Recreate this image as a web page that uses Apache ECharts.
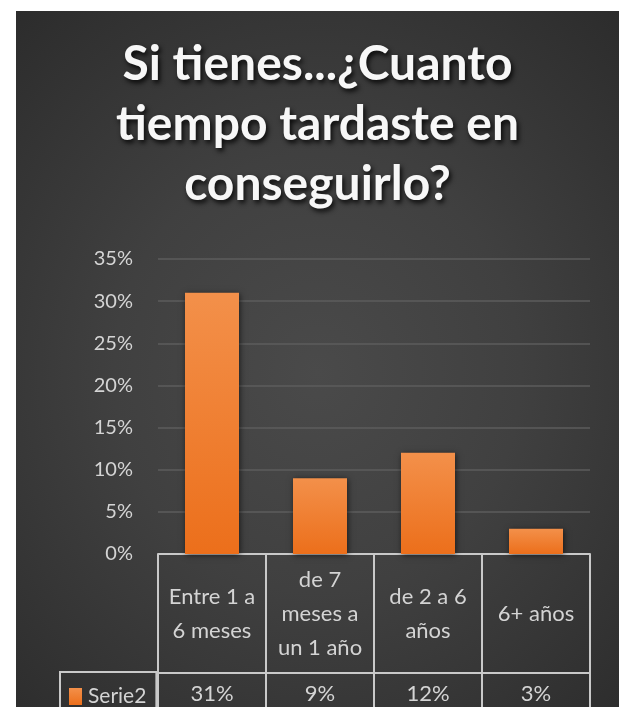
<!DOCTYPE html>
<html>
<head>
<meta charset="utf-8">
<script src="https://cdn.jsdelivr.net/npm/echarts@6/dist/echarts.min.js"></script>
<style>
  html, body { margin: 0; padding: 0; background: #ffffff; width: 628px; height: 707px; overflow: hidden; }
  #panel {
    position: absolute; left: 16px; top: 11px; width: 603px; height: 696px;
    background: radial-gradient(ellipse 75% 70% at 50% 52%, #4a4a4a 0%, #404040 45%, #2c2c2c 100%);
  }
  #chart { width: 603px; height: 696px; }
</style>
</head>
<body>
<div id="panel"><div id="chart"></div></div>
<script>
const titleText = 'Si tienes...¿Cuanto\ntiempo tardaste en\nconseguirlo?';
const categories = ['Entre 1 a\n6 meses', 'de 7\nmeses a\nun 1 año', 'de 2 a 6\naños', '6+ años'];
const seriesName = 'Serie2';
const serieValues = [31, 9, 12, 3];
const yTicks = [0, 5, 10, 15, 20, 25, 30, 35];

const FONT = 'Lato';
const LABEL = '#d4d4d4';
const TABLE_LINE = '#c9c9c9';

const chart = echarts.init(document.getElementById('chart'), null, { renderer: 'canvas' });
chart.setOption({
  backgroundColor: 'transparent',
  animation: false,
  title: {
    text: titleText,
    left: 'center',
    top: 19,
    textStyle: {
      color: '#f7f7f7', fontFamily: FONT, fontWeight: 'bold', fontSize: 48, lineHeight: 60,
      textShadowColor: 'rgba(0,0,0,0.85)', textShadowBlur: 5, textShadowOffsetX: 2, textShadowOffsetY: 3
    }
  },
  legend: {
    data: [seriesName],
    left: 44, top: 661,
    orient: 'horizontal',
    icon: 'rect', itemWidth: 13, itemHeight: 17, itemGap: 5,
    padding: [14, 10, 40, 9],
    borderColor: TABLE_LINE, borderWidth: 2,
    textStyle: { color: LABEL, fontFamily: FONT, fontSize: 21, padding: [0, 0, 0, 1] },
    selectedMode: false
  },
  grid: { left: 142, right: 29, top: 248, bottom: 153, containLabel: false },
  xAxis: [
    {
      type: 'category',
      data: categories,
      position: 'bottom',
      axisLine: { show: true, lineStyle: { color: TABLE_LINE, width: 2 } },
      axisTick: { show: true, interval: 0, length: 160, lineStyle: { color: TABLE_LINE, width: 2 } },
      axisLabel: {
        interval: 0, margin: 60, verticalAlign: 'middle', align: 'center',
        color: LABEL, fontFamily: FONT, fontSize: 22, lineHeight: 34
      },
      splitLine: { show: false }
    },
    {
      type: 'category',
      data: categories,
      position: 'bottom',
      offset: 119,
      axisLine: { show: true, lineStyle: { color: TABLE_LINE, width: 2 } },
      axisTick: { show: false },
      axisLabel: {
        interval: 0, margin: 21, verticalAlign: 'middle', align: 'center',
        color: LABEL, fontFamily: FONT, fontSize: 22,
        formatter: function (v, i) { return serieValues[i] + '%'; }
      },
      splitLine: { show: false }
    }
  ],
  yAxis: {
    type: 'value',
    min: yTicks[0], max: yTicks[yTicks.length - 1], interval: 5,
    axisLine: { show: false },
    axisTick: { show: false },
    axisLabel: { margin: 25, color: LABEL, fontFamily: FONT, fontSize: 20, formatter: '{value}%' },
    splitLine: { show: true, lineStyle: { color: '#5c5c5c', width: 1.5 } }
  },
  series: [{
    name: seriesName,
    type: 'bar',
    xAxisIndex: 0,
    data: serieValues,
    barWidth: '50%',
    itemStyle: {
      color: new echarts.graphic.LinearGradient(0, 0, 0, 1, [
        { offset: 0, color: '#f3904a' },
        { offset: 1, color: '#ec6f1b' }
      ]),
      shadowColor: 'rgba(0,0,0,0.6)', shadowBlur: 6, shadowOffsetX: 1, shadowOffsetY: 1
    }
  }],
  color: ['#ef7b2c']
});
</script>
</body>
</html>
